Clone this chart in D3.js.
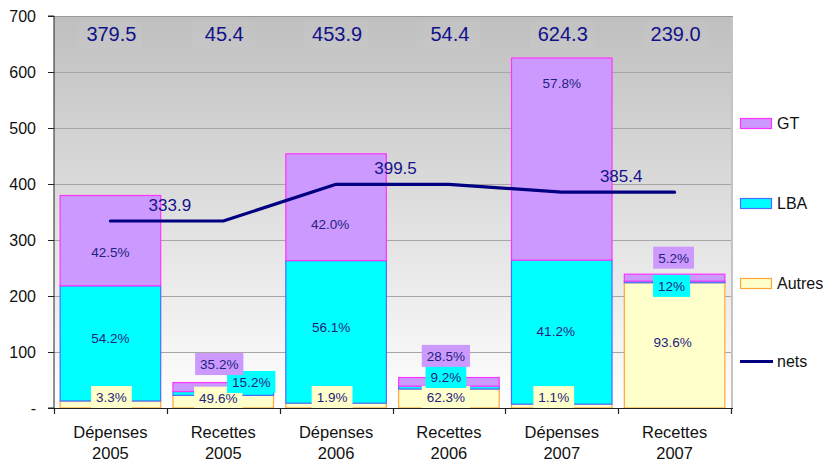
<!DOCTYPE html>
<html>
<head>
<meta charset="utf-8">
<script src="https://cdn.jsdelivr.net/npm/d3@7"></script>
<style>
  html, body { margin: 0; padding: 0; background: #ffffff; }
  svg { display: block; font-family: "Liberation Sans", Arial, sans-serif; }
</style>
</head>
<body>
<svg id="chart" width="826" height="462"></svg>
<script>
// Categories (two-line axis labels)
const categories = ["Dépenses 2005", "Recettes 2005", "Dépenses 2006", "Recettes 2006", "Dépenses 2007", "Recettes 2007"];
const categoryLines = [["Dépenses", "2005"], ["Recettes", "2005"], ["Dépenses", "2006"], ["Recettes", "2006"], ["Dépenses", "2007"], ["Recettes", "2007"]];

// Totals (M€) shown above each column
const totals = [379.5, 45.4, 453.9, 54.4, 624.3, 239.0];

// Share of each component in the total (%)
const sharesAutres = [3.3, 49.6, 1.9, 62.3, 1.1, 93.6];
const sharesLBA    = [54.2, 15.2, 56.1, 9.2, 41.2, 1.2];
const sharesGT     = [42.5, 35.2, 42.0, 28.5, 57.8, 5.2];

// Printed share labels
const labelsAutres = ["3.3%", "49.6%", "1.9%", "62.3%", "1.1%", "93.6%"];
const labelsLBA    = ["54.2%", "15.2%", "56.1%", "9.2%", "41.2%", "12%"];
const labelsGT     = ["42.5%", "35.2%", "42.0%", "28.5%", "57.8%", "5.2%"];

// Net balance per year, spanning the Dépenses and Recettes columns
const netYears  = ["2005", "2006", "2007"];
const netValues = [333.9, 399.5, 385.4];

const yTicks = [0, 100, 200, 300, 400, 500, 600, 700];

// ---- styles ----
const series = [
  { key: "Autres", shares: sharesAutres, labels: labelsAutres, fill: "#ffffcc", stroke: "#ffa53a" },
  { key: "LBA",    shares: sharesLBA,    labels: labelsLBA,    fill: "#00ffff", stroke: "#4a6cff" },
  { key: "GT",     shares: sharesGT,     labels: labelsGT,     fill: "#cc99ff", stroke: "#ff33ff" }
];
const navy = "#000080";
const labelColor = "#23237d";

// label placement relative to segment centre: [dx, dy, boxed]
const labelPlacement = {
  Autres: [[1, -7.5, true], [-5, -4, true], [-4, -8.6, true], [-3, -1.5, true], [-8, -9, true], [-2, -3, false]],
  LBA:    [[0, -5, false], [28, -11.5, true], [-5, -5, false], [-3, -10.6, true], [-6, -1, false], [-3, 4, true]],
  GT:     [[0, 11, false], [-4, -23, true], [-6, 17, false], [-3, -26, true], [0, -76, false], [-1, -20, true]]
};

const svg = d3.select("#chart");
const plot = { left: 54, right: 731, top: 16, bottom: 408 };

const x = d3.scaleBand().domain(categories).range([plot.left, plot.right])
  .paddingInner(0.1).paddingOuter(0.05);
const y = d3.scaleLinear().domain([0, 700]).range([plot.bottom, plot.top]);

// background gradient
const defs = svg.append("defs");
const grad = defs.append("linearGradient").attr("id", "bg").attr("x1", 0).attr("y1", 0).attr("x2", 0).attr("y2", 1);
grad.append("stop").attr("offset", "0%").attr("stop-color", "#bfbfbf");
grad.append("stop").attr("offset", "100%").attr("stop-color", "#ffffff");

svg.append("rect")
  .attr("x", plot.left).attr("y", plot.top)
  .attr("width", plot.right - plot.left).attr("height", plot.bottom - plot.top)
  .attr("fill", "url(#bg)");

// right and top frame
svg.append("line").attr("x1", plot.right + 1).attr("x2", plot.right + 1)
  .attr("y1", plot.top).attr("y2", plot.bottom)
  .attr("stroke", "#c4c4c4").attr("stroke-width", 2);
svg.append("line").attr("x1", plot.left).attr("x2", plot.right + 2)
  .attr("y1", plot.top + 0.5).attr("y2", plot.top + 0.5)
  .attr("stroke", "#9a9a9a").attr("stroke-width", 1);

// gridlines
svg.append("g").selectAll("line").data(yTicks.filter(d => d > 0 && d < 700)).join("line")
  .attr("x1", plot.left).attr("x2", plot.right)
  .attr("y1", d => Math.round(y(d)) + 0.5).attr("y2", d => Math.round(y(d)) + 0.5)
  .attr("stroke", "#a6a6a6").attr("stroke-width", 1);

// top total labels
const totalG = svg.append("g");
totals.forEach((t, i) => {
  const cx = x(categories[i]) + x.bandwidth() / 2;
  totalG.append("rect").attr("x", cx - 32).attr("y", 20).attr("width", 64).attr("height", 29)
    .attr("fill", "#ffffff").attr("opacity", 0.035);
  totalG.append("text").attr("x", cx + 1).attr("y", 41)
    .attr("text-anchor", "middle").attr("font-size", 20).attr("fill", "#11118a")
    .text(d3.format(".1f")(t));
});

// stacked bars
const stackData = categories.map((c, i) => {
  let base = 0;
  const segs = series.map(s => {
    const v = totals[i] * s.shares[i] / 100;
    const seg = { series: s, i, y0: base, y1: base + v };
    base += v;
    return seg;
  });
  return segs;
});

const barG = svg.append("g");
stackData.forEach((segs, i) => {
  segs.forEach(seg => {
    barG.append("rect")
      .attr("x", x(categories[i]) + 0.5)
      .attr("y", y(seg.y1))
      .attr("width", x.bandwidth() - 1)
      .attr("height", Math.max(0.8, y(seg.y0) - y(seg.y1)))
      .attr("fill", seg.series.fill)
      .attr("stroke", seg.series.stroke)
      .attr("stroke-width", 1.2);
  });
});

// axes
const yAxis = d3.axisLeft(y).tickValues(yTicks).tickSize(6).tickPadding(12)
  .tickFormat(d => d === 0 ? "-" : d3.format("d")(d));
const yg = svg.append("g").attr("transform", `translate(${plot.left},0)`).call(yAxis);
yg.select(".domain").attr("stroke", "#222").attr("d", `M-6,${plot.top}H0V${plot.bottom}H-6`);
yg.selectAll(".tick line").attr("stroke", "#222");
yg.selectAll(".tick text").attr("font-size", 16).attr("fill", "#111")
  .attr("font-family", "Liberation Sans, Arial, sans-serif");

svg.append("line").attr("x1", plot.left - 6).attr("x2", plot.right + 2)
  .attr("y1", plot.bottom + 0.5).attr("y2", plot.bottom + 0.5)
  .attr("stroke", "#222").attr("stroke-width", 1.2);
const boundaries = d3.range(categories.length + 1).map(k => plot.left + k * x.step() * (categories.length) / (categories.length) );
svg.append("g").selectAll("line").data(d3.range(categories.length + 1)).join("line")
  .attr("x1", k => Math.round(plot.left + k * (plot.right - plot.left) / categories.length) + 0.5)
  .attr("x2", k => Math.round(plot.left + k * (plot.right - plot.left) / categories.length) + 0.5)
  .attr("y1", plot.bottom).attr("y2", plot.bottom + 6)
  .attr("stroke", "#222").attr("stroke-width", 1.2);

// category labels
const catG = svg.append("g");
categoryLines.forEach((lines, i) => {
  const cx = x(categories[i]) + x.bandwidth() / 2;
  lines.forEach((ln, j) => {
    catG.append("text").attr("x", cx).attr("y", 438 + j * 21)
      .attr("text-anchor", "middle").attr("font-size", 16.5).attr("fill", "#111")
      .text(ln);
  });
});

// net line
const netPoints = [];
netYears.forEach((yr, k) => {
  const dep = "Dépenses " + yr, rec = "Recettes " + yr;
  netPoints.push([x(dep) + x.bandwidth() / 2, netValues[k]]);
  netPoints.push([x(rec) + x.bandwidth() / 2, netValues[k]]);
});
svg.append("path")
  .attr("d", d3.line().x(d => d[0]).y(d => y(d[1]))(netPoints))
  .attr("fill", "none").attr("stroke", navy).attr("stroke-width", 3.2)
  .attr("stroke-linejoin", "round").attr("stroke-linecap", "round");

netYears.forEach((yr, k) => {
  const mid = (x("Dépenses " + yr) + x("Recettes " + yr) + x.bandwidth()) / 2;
  svg.append("text").attr("x", mid + 3).attr("y", y(netValues[k]) - 10.5)
    .attr("text-anchor", "middle").attr("font-size", 17).attr("fill", "#14148a")
    .text(d3.format(".1f")(netValues[k]));
});

// share labels
const labG = svg.append("g");
stackData.forEach((segs, i) => {
  const cx = x(categories[i]) + x.bandwidth() / 2;
  segs.forEach(seg => {
    const s = seg.series;
    const [dx, dy, boxed] = labelPlacement[s.key][i];
    const cy = (y(seg.y0) + y(seg.y1)) / 2 + dy;
    const g = labG.append("g");
    const t = g.append("text").attr("x", cx + dx).attr("y", cy + 5)
      .attr("text-anchor", "middle").attr("font-size", 13.5).attr("fill", labelColor)
      .text(s.labels[i]);
    if (boxed) {
      const bb = t.node().getBBox();
      const h = Math.min(22, plot.bottom - (cy - 11));
      g.insert("rect", "text")
        .attr("x", bb.x - 5).attr("y", cy - 11)
        .attr("width", bb.width + 10).attr("height", h)
        .attr("fill", s.fill);
    }
  });
});

// legend
const legend = [
  { label: "GT", fill: "#cc99ff", stroke: "#ff33ff", y: 123 },
  { label: "LBA", fill: "#00ffff", stroke: "#4a6cff", y: 203 },
  { label: "Autres", fill: "#ffffcc", stroke: "#ffa53a", y: 283 }
];
const lg = svg.append("g");
legend.forEach(l => {
  lg.append("rect").attr("x", 740.5).attr("y", l.y - 4.5).attr("width", 31).attr("height", 10)
    .attr("fill", l.fill).attr("stroke", l.stroke).attr("stroke-width", 1.2);
  lg.append("text").attr("x", 777).attr("y", l.y + 5.5).attr("font-size", 16).attr("fill", "#111")
    .text(l.label);
});
lg.append("line").attr("x1", 740).attr("x2", 773).attr("y1", 361.5).attr("y2", 361.5)
  .attr("stroke", navy).attr("stroke-width", 3);
lg.append("text").attr("x", 777).attr("y", 367).attr("font-size", 16).attr("fill", "#111").text("nets");
</script>
</body>
</html>
